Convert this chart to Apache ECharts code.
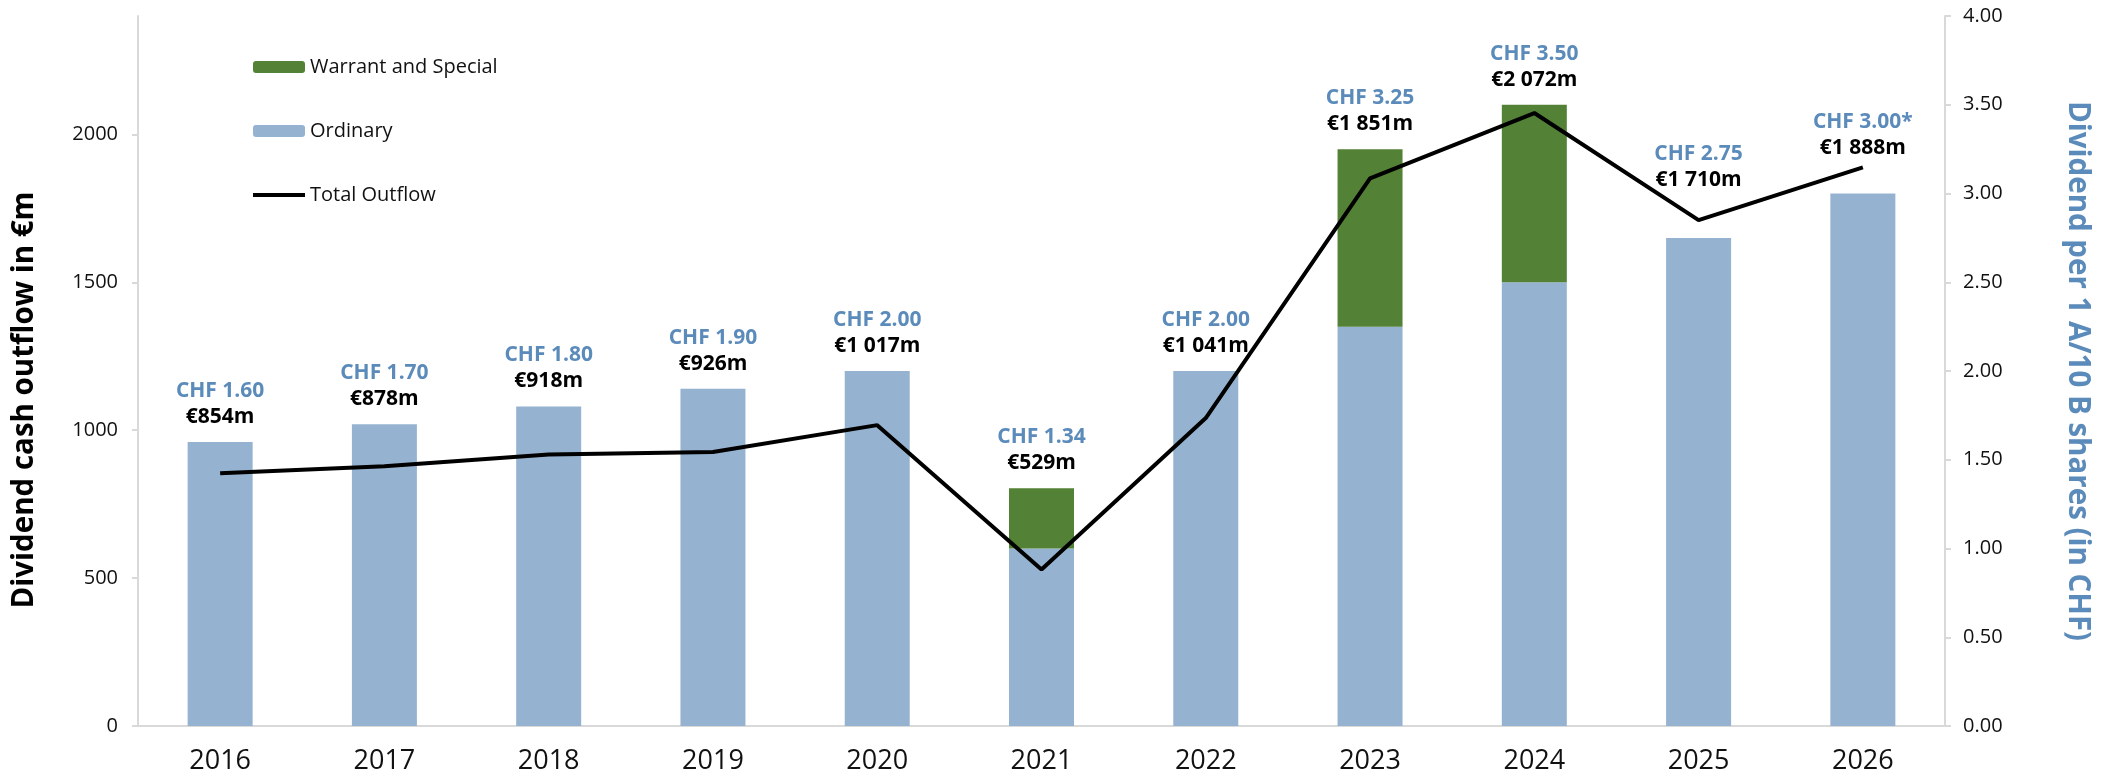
<!DOCTYPE html>
<html>
<head>
<meta charset="utf-8">
<title>Dividend</title>
<script src="https://cdn.jsdelivr.net/npm/echarts@6/dist/echarts.min.js"></script>
<style>
  html, body { margin: 0; padding: 0; background: #fff; }
  #main { width: 2105px; height: 779px; }
</style>
</head>
<body>
<div id="main"></div>
<script>
// years on x axis
var years = ['2016', '2017', '2018', '2019', '2020', '2021', '2022', '2023', '2024', '2025', '2026']
// dividend per share in CHF (right axis)
var ordinary = [1.60, 1.70, 1.80, 1.90, 2.00, 1.00, 2.00, 2.25, 2.50, 2.75, 3.00]
var warrant = [0, 0, 0, 0, 0, 0.34, 0, 1.00, 1.00, 0, 0]
// total cash outflow in €m (left axis)
var totalOutflow = [854, 878, 918, 926, 1017, 529, 1041, 1851, 2072, 1710, 1888]
// texts above the bars
var chfLabels = ['CHF 1.60', 'CHF 1.70', 'CHF 1.80', 'CHF 1.90', 'CHF 2.00', 'CHF 1.34', 'CHF 2.00', 'CHF 3.25', 'CHF 3.50', 'CHF 2.75', 'CHF 3.00*']
var eurLabels = ['€854m', '€878m', '€918m', '€926m', '€1 017m', '€529m', '€1 041m', '€1 851m', '€2 072m', '€1 710m', '€1 888m']

var font = 'Open Sans'
var blueText = '#5b8bba'
var grey = '#d9d9d9'

// labels of the last two years sit higher so they clear the line (px)
var labelLift = { 9: 33, 10: 20 }

var warrantData = warrant.map(function (v, i) {
  var item = { value: v }
  if (labelLift[i]) {
    item.label = { offset: [0, -labelLift[i]] }
  }
  return item
})

var dom = document.getElementById('main')
var myChart = echarts.init(dom, null, { renderer: 'canvas' })

var option = {
  animation: false,
  textStyle: { fontFamily: font },
  legend: {
    orient: 'vertical',
    left: 246,
    top: 52,
    itemWidth: 52,
    itemHeight: 12,
    itemGap: 44,
    textStyle: { fontFamily: font, fontSize: 20, color: '#111' },
    data: [
      { name: 'Warrant and Special' },
      { name: 'Ordinary' },
      { name: 'Total Outflow', itemStyle: { opacity: 0 }, lineStyle: { color: '#000', width: 4 } }
    ]
  },
  grid: {
    left: 138,
    right: 160,
    top: 16,
    bottom: 53
  },
  xAxis: {
    type: 'category',
    data: years,
    axisTick: { show: false },
    axisLine: { lineStyle: { color: grey, width: 2 } },
    axisLabel: { color: '#111', fontSize: 27, margin: 22, fontFamily: font }
  },
  yAxis: [
    {
      type: 'value',
      min: 0,
      max: 2400,
      interval: 500,
      name: 'Dividend cash outflow in €m',
      nameLocation: 'middle',
      nameGap: 98,
      nameTextStyle: { fontSize: 29.5, fontWeight: 'bold', color: '#000', fontFamily: font, padding: [0, 58, 0, 0] },
      splitLine: { show: false },
      axisLine: { show: true, lineStyle: { color: grey, width: 2 } },
      axisTick: { show: true, length: 6, lineStyle: { color: grey, width: 2 } },
      axisLabel: {
        color: '#111', fontSize: 20, margin: 20, showMaxLabel: false, fontFamily: font,
        formatter: function (v) { return String(v) }
      }
    },
    {
      type: 'value',
      min: 0,
      max: 4,
      interval: 0.5,
      position: 'right',
      name: 'Dividend per 1 A/10 B shares (in CHF)',
      nameLocation: 'middle',
      nameGap: 117,
      nameRotate: -90,
      nameTextStyle: { fontSize: 29.5, fontWeight: 'bold', color: blueText, fontFamily: font },
      splitLine: { show: false },
      axisLine: { show: true, lineStyle: { color: grey, width: 2 } },
      axisTick: { show: true, length: 6, lineStyle: { color: grey, width: 2 } },
      axisLabel: {
        color: '#111', fontSize: 20, margin: 18, fontFamily: font,
        formatter: function (v) { return v.toFixed(2) }
      }
    }
  ],
  series: [
    {
      name: 'Ordinary',
      type: 'bar',
      yAxisIndex: 1,
      stack: 'div',
      barWidth: 65,
      data: ordinary,
      itemStyle: { color: '#95b3d0' }
    },
    {
      name: 'Warrant and Special',
      type: 'bar',
      yAxisIndex: 1,
      stack: 'div',
      barWidth: 65,
      data: warrantData,
      itemStyle: { color: '#538135' },
      label: {
        show: true,
        position: 'top',
        distance: 12,
        formatter: function (p) {
          return '{a|' + chfLabels[p.dataIndex] + '}\n{b|' + eurLabels[p.dataIndex] + '}'
        },
        rich: {
          a: { fontFamily: font, fontSize: 21, fontWeight: 'bold', color: blueText, lineHeight: 26, align: 'center' },
          b: { fontFamily: font, fontSize: 21, fontWeight: 'bold', color: '#000', lineHeight: 26, align: 'center' }
        }
      }
    },
    {
      name: 'Total Outflow',
      type: 'line',
      yAxisIndex: 0,
      data: totalOutflow,
      symbol: 'none',
      z: 5,
      lineStyle: { color: '#000', width: 4 },
      itemStyle: { color: '#000' }
    }
  ]
}
myChart.setOption(option, true)
</script>
</body>
</html>
